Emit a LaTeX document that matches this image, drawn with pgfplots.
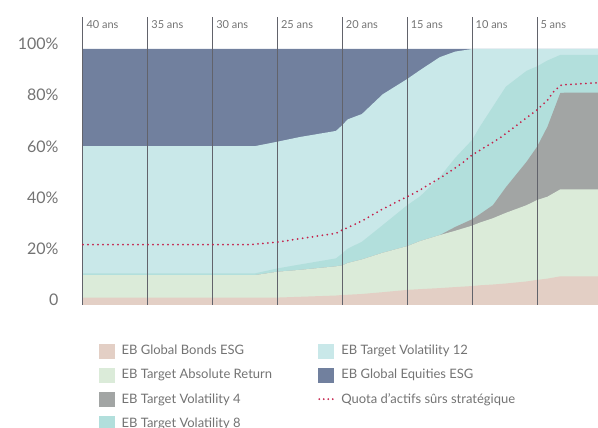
\documentclass[border=0pt]{standalone}
\usepackage{fontspec}
\setmainfont{Lato}
\usepackage{pgfplots}
\pgfplotsset{compat=1.18}
\usepackage{pgfplotstable}

\definecolor{bonds}{HTML}{E3CFC5}
\definecolor{tar}{HTML}{DBEBD9}
\definecolor{tv4}{HTML}{A2A5A4}
\definecolor{tv8}{HTML}{B2DFDC}
\definecolor{tv12}{HTML}{C9E8E9}
\definecolor{equit}{HTML}{71809E}
\definecolor{quota}{HTML}{C4234C}
\definecolor{vline}{HTML}{62636B}
\definecolor{txt}{HTML}{737373}

% cumulative tops of each layer, t = years elapsed (0 = 40 ans)
\pgfplotstableread{
t     B     G     T4    T8    T12
0     2.9   11.7  11.7  12.4  62.1
13.3  2.9   11.7  11.7  12.4  62.1
15    2.9   13.0  13.0  14.3  63.8
16.7  3.2   13.7  13.7  15.8  65.6
19.5  3.7   15.1  15.1  18.2  68.0
20    3.9   15.5  15.5  20.2  70.3
20.4  4.0   16.4  16.4  22.0  72.5
21.5  4.3   17.8  17.8  24.7  74.6
23.1  5.0   20.4  20.4  31.2  82.3
25    5.9   23.0  23.0  39.0  88.3
26    6.2   25.0  25.0  42.5  91.8
27.5  6.6   27.3  27.3  50.0  96.8
28.7  7.0   29.0  30.5  57.5  99.0
30    7.4   31.0  33.5  64.5  100
30.6  7.7   32.2  35.5  69.7  100
31.6  8.0   33.9  39.0  77.5  100
32.6  8.4   36.0  46.0  85.3  100
34.2  9.2   39.0  56.0  91.5  100
35    9.8   41.0  61.8  93.2  100
35.8  10.3  42.3  69.6  95.5  100
36.8  11.2  45.2  82.9  97.7  100
39.7  11.2  45.2  83.0  97.7  100
}\layers

\pgfplotstableread{
t     Q
0     23.6
12.9  23.6
14.9  24.5
16.7  25.9
19.5  28.0
20.0  29.3
21.5  32.8
23.1  37.5
25.0  42.3
26.0  45.0
27.8  50.5
29.2  55.3
30.0  58.6
32.1  65.1
35.0  76.2
35.8  80.0
36.3  83.5
36.9  86.0
39.7  86.8
}\quotatab

\begin{document}
\begin{tikzpicture}
\begin{axis}[
  scale only axis, width=515pt, height=288pt,
  xmin=0, xmax=39.7, ymin=0, ymax=112.5,
  axis line style={draw=none},
  major tick length=0pt,
  xtick=\empty,
  ytick={0,20,40,60,80,100},
  yticklabels={0,20\%,40\%,60\%,80\%,100\%},
  yticklabel style={font=\fontsize{16}{19}\selectfont, text=txt, xshift=-21pt, yshift=5pt},
  clip=false,
  legend columns=2,
  legend cell align=left,
  legend style={at={(0.031,-0.132)}, anchor=north west, draw=none, fill=none,
    inner sep=0pt, row sep=9pt,
    font=\fontsize{13}{15}\selectfont, text=txt,
    /tikz/every odd column/.style={column sep=5pt},
    /tikz/column 2/.style={column sep=44pt}},
]
\addplot[fill=equit, draw=none, forget plot] table[x=t, y expr=100] {\layers} \closedcycle;
\addplot[fill=tv12, draw=none, forget plot] table[x=t, y=T12] {\layers} \closedcycle;
\addplot[fill=tv8, draw=none, forget plot] table[x=t, y=T8] {\layers} \closedcycle;
\addplot[fill=tv4, draw=none, forget plot] table[x=t, y=T4] {\layers} \closedcycle;
\addplot[fill=tar, draw=none, forget plot] table[x=t, y=G] {\layers} \closedcycle;
\addplot[fill=bonds, draw=none, forget plot] table[x=t, y=B] {\layers} \closedcycle;

\pgfplotsinvokeforeach{0,5,10,15,20,25,30,35}{
  \draw[vline, line width=1pt] (axis cs:#1,0) -- (axis cs:#1,112.5);
}

\addplot[quota, line width=2pt, line cap=round, dash pattern=on 0pt off 5pt, forget plot]
  table[x=t, y=Q] {\quotatab};

\node[anchor=west, font=\fontsize{11}{13}\selectfont, text=txt] at (axis cs:0,109.4) {40 ans};
\node[anchor=west, font=\fontsize{11}{13}\selectfont, text=txt] at (axis cs:5,109.4) {35 ans};
\node[anchor=west, font=\fontsize{11}{13}\selectfont, text=txt] at (axis cs:10,109.4) {30 ans};
\node[anchor=west, font=\fontsize{11}{13}\selectfont, text=txt] at (axis cs:15,109.4) {25 ans};
\node[anchor=west, font=\fontsize{11}{13}\selectfont, text=txt] at (axis cs:20,109.4) {20 ans};
\node[anchor=west, font=\fontsize{11}{13}\selectfont, text=txt] at (axis cs:25,109.4) {15 ans};
\node[anchor=west, font=\fontsize{11}{13}\selectfont, text=txt] at (axis cs:30,109.4) {10 ans};
\node[anchor=west, font=\fontsize{11}{13}\selectfont, text=txt] at (axis cs:35,109.4) {5 ans};

\addlegendimage{legend image code/.code={\fill[bonds] (0pt,-7pt) rectangle (15pt,7pt);}}
\addlegendentry{EB Global Bonds ESG}
\addlegendimage{legend image code/.code={\fill[tv12] (0pt,-7pt) rectangle (15pt,7pt);}}
\addlegendentry{EB Target Volatility 12}
\addlegendimage{legend image code/.code={\fill[tar] (0pt,-7pt) rectangle (15pt,7pt);}}
\addlegendentry{EB Target Absolute Return}
\addlegendimage{legend image code/.code={\fill[equit] (0pt,-7pt) rectangle (15pt,7pt);}}
\addlegendentry{EB Global Equities ESG}
\addlegendimage{legend image code/.code={\fill[tv4] (0pt,-7pt) rectangle (15pt,7pt);}}
\addlegendentry{EB Target Volatility 4}
\addlegendimage{legend image code/.code={\draw[quota, line width=2pt, line cap=round, dash pattern=on 0pt off 4.5pt] (1pt,0pt) -- (15pt,0pt);}}
\addlegendentry{Quota d’actifs sûrs stratégique}
\addlegendimage{legend image code/.code={\fill[tv8] (0pt,-7pt) rectangle (15pt,7pt);}}
\addlegendentry{EB Target Volatility 8}
\end{axis}
\pgfresetboundingbox
\path[use as bounding box] (current axis.south west) ++(-83pt,-123pt) rectangle ++(598pt,428pt);
\end{tikzpicture}
\end{document}
